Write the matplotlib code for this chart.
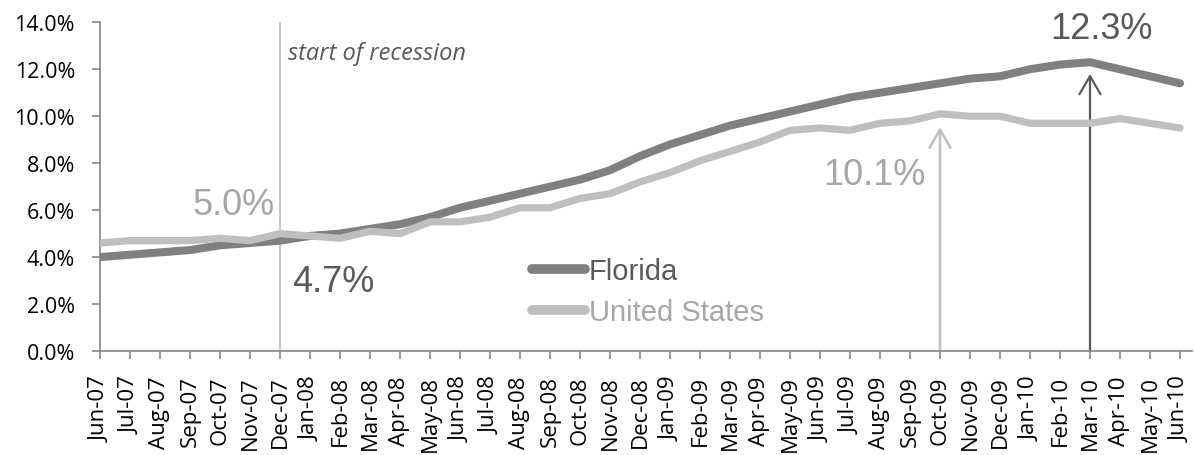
import matplotlib
matplotlib.use("Agg")
import matplotlib.pyplot as plt

months = ["Jun-07", "Jul-07", "Aug-07", "Sep-07", "Oct-07", "Nov-07", "Dec-07",
          "Jan-08", "Feb-08", "Mar-08", "Apr-08", "May-08", "Jun-08", "Jul-08",
          "Aug-08", "Sep-08", "Oct-08", "Nov-08", "Dec-08", "Jan-09", "Feb-09",
          "Mar-09", "Apr-09", "May-09", "Jun-09", "Jul-09", "Aug-09", "Sep-09",
          "Oct-09", "Nov-09", "Dec-09", "Jan-10", "Feb-10", "Mar-10", "Apr-10",
          "May-10", "Jun-10"]

florida = [4.0, 4.1, 4.2, 4.3, 4.5, 4.6, 4.7,
           4.9, 5.0, 5.2, 5.4, 5.7, 6.1, 6.4,
           6.7, 7.0, 7.3, 7.7, 8.3, 8.8, 9.2,
           9.6, 9.9, 10.2, 10.5, 10.8, 11.0, 11.2,
           11.4, 11.6, 11.7, 12.0, 12.2, 12.3, 12.0,
           11.7, 11.4]

united_states = [4.6, 4.7, 4.7, 4.7, 4.8, 4.7, 5.0,
                 4.9, 4.8, 5.1, 5.0, 5.5, 5.5, 5.7,
                 6.1, 6.1, 6.5, 6.7, 7.2, 7.6, 8.1,
                 8.5, 8.9, 9.4, 9.5, 9.4, 9.7, 9.8,
                 10.1, 10.0, 10.0, 9.7, 9.7, 9.7, 9.9,
                 9.7, 9.5]

yticks = [0, 2, 4, 6, 8, 10, 12, 14]
recession_month = "Dec-07"
us_peak_month = "Oct-09"
fl_peak_month = "Mar-10"

C_FL = "#808080"
C_US = "#bfbfbf"
C_DARK = "#595959"
C_LIGHT = "#a6a6a6"
C_AXIS = "#868686"

W, H = 1194, 456
fig = plt.figure(figsize=(W / 100, H / 100), dpi=100)
ax = fig.add_axes([100 / W, 1 - 352 / H, 36.4 * 30 / W, 328.7 / H])

x = list(range(len(months)))
ax.plot(x, florida, color=C_FL, lw=5.8, solid_capstyle="round",
        solid_joinstyle="miter", label="Florida", zorder=3)
ax.plot(x, united_states, color=C_US, lw=5.2, solid_capstyle="round",
        solid_joinstyle="miter", label="United States", zorder=4)

ax.set_xlim(0, 36.4)
ax.set_ylim(0, 14)

for s in ["top", "right"]:
    ax.spines[s].set_visible(False)
for s in ["left", "bottom"]:
    ax.spines[s].set_color(C_AXIS)
    ax.spines[s].set_linewidth(1.2)

ax.set_yticks(yticks)
ax.set_yticklabels([f"{v:.1f}%" for v in yticks], fontfamily="Open Sans",
                   fontsize=15.5, color="#000000")
ax.set_xticks(x)
ax.set_xticklabels(months, rotation=90, ha="center", va="top",
                   fontfamily="Open Sans", fontsize=16.0, color="#000000")
ax.tick_params(axis="y", direction="out", length=6, width=1.2, color=C_AXIS, pad=12)
ax.tick_params(axis="x", direction="out", length=5.5, width=1.2, color=C_AXIS, pad=12)

# recession marker
ri = months.index(recession_month)
ax.axvline(ri, color=C_US, lw=1.2, zorder=1)
ax.annotate("start of recession", xy=(ri, 14), xytext=(8, -37),
            textcoords="offset pixels", ha="left", va="baseline",
            fontfamily="Open Sans", fontstyle="italic", fontsize=17,
            color=C_DARK)

# arrows
ui = months.index(us_peak_month)
fi = months.index(fl_peak_month)
ax.annotate("", xy=(ui, united_states[ui] - 0.57), xytext=(ui, 0),
            arrowprops=dict(arrowstyle="->,head_length=0.65,head_width=0.38",
                            color=C_US, lw=1.8, shrinkA=0, shrinkB=0,
                            mutation_scale=20), zorder=2)
ax.annotate("", xy=(fi, florida[fi] - 0.5), xytext=(fi, 0),
            arrowprops=dict(arrowstyle="->,head_length=0.65,head_width=0.38",
                            color=C_DARK, lw=1.6, shrinkA=0, shrinkB=0,
                            mutation_scale=20), zorder=2)

# value labels
lab_kw = dict(textcoords="offset pixels", ha="center", va="baseline",
              fontfamily="Liberation Sans", fontsize=26)
ax.annotate(f"{united_states[ri]:.1f}%", xy=(ri, united_states[ri]),
            xytext=(-46.5, 19.5), color=C_LIGHT, **lab_kw)
ax.annotate(f"{florida[ri]:.1f}%", xy=(ri, florida[ri]),
            xytext=(53.5, -50.4), color=C_DARK, **lab_kw)
ax.annotate(f"{united_states[ui]:.1f}%", xy=(ui, united_states[ui]),
            xytext=(-66, -70.3), color=C_LIGHT, **lab_kw)
ax.annotate(f"{florida[fi]:.1f}%", xy=(fi, florida[fi]),
            xytext=(11.5, 24), color=C_DARK, **lab_kw)

leg = ax.legend(loc="upper left", bbox_to_anchor=(532 / W, 1 - 258 / H),
                bbox_transform=fig.transFigure, frameon=False,
                prop={"family": "Liberation Sans", "size": 21},
                handlelength=1.8, handletextpad=0.15, labelspacing=0.45,
                borderpad=0, borderaxespad=0,
                labelcolor=[C_DARK, C_LIGHT])
for h in leg.get_lines():
    h.set_solid_capstyle("round")
    h.set_linewidth(7)

fig.savefig("out.png", dpi=100)
